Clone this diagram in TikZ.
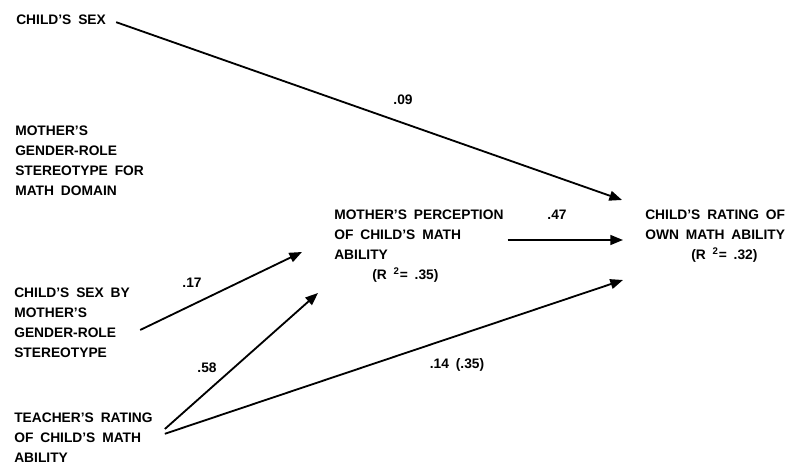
\documentclass[tikz,border=0pt]{standalone}
\usepackage{fontspec}
\setmainfont[WordSpace=1.8]{Liberation Sans}
\usetikzlibrary{arrows.meta,calc}
\tikzset{
  var/.style={anchor=north west, align=left, inner sep=0pt, font=\bfseries\fontsize{9.8}{14.2}\selectfont},
  coef/.style={inner sep=0pt, font=\bfseries\fontsize{9.8}{11}\selectfont},
  path/.style={-{Triangle[length=9pt,width=7pt]}, line width=1.3pt}
}
\begin{document}
\begin{tikzpicture}
\useasboundingbox (0,0) rectangle (19.65,11.625);
\node[var] (sex) at (0.4,11.25) {CHILD'S SEX};
\node[var] (stereo) at (0.375,8.475) {MOTHER'S\\GENDER-ROLE\\STEREOTYPE FOR\\MATH DOMAIN};
\node[var] (sexby) at (0.35,4.425) {CHILD'S SEX BY\\MOTHER'S\\GENDER-ROLE\\STEREOTYPE};
\node[var] (teacher) at (0.35,1.32) {TEACHER'S RATING\\OF CHILD'S MATH\\ABILITY};
\node[var] (percep) at (8.35,6.375) {MOTHER'S PERCEPTION\\OF CHILD'S MATH\\ABILITY\\\hspace*{0.95cm}(R \textsuperscript{2}= .35)};
\node[var] (rating) at (16.125,6.375) {CHILD'S RATING OF\\OWN MATH ABILITY\\\hspace*{1.15cm}(R \textsuperscript{2}= .32)};
% arrow tips
\coordinate (r1) at (15.55,6.625);
\coordinate (r2) at (15.575,5.625);
\coordinate (r3) at (15.575,4.625);
\coordinate (p1) at (7.55,5.325);
\coordinate (p2) at (7.95,4.3);
\draw[path] ($(sex.east)+(0.25,-0.05)$) -- (r1);
\draw[path] ($(percep.east |- r2)+(0.1,0)$) -- (r2);
\draw[path] ($(sexby.north east)+(0.25,-1.05)$) -- (p1);
\draw[path] ($(teacher.north east)+(0.3,-0.42)$) -- (p2);
\draw[path] ($(teacher.north east)+(0.3,-0.54)$) -- (r3);
% coefficients
\node[coef] (w09) at (10.075,9.125) {.09};
\node[coef] (w47) at (13.925,6.25) {.47};
\node[coef] (w17) at (4.8,4.55) {.17};
\node[coef] (w58) at (5.175,2.425) {.58};
\node[coef] (w14) at (11.425,2.5) {.14 (.35)};
\end{tikzpicture}
\end{document}
